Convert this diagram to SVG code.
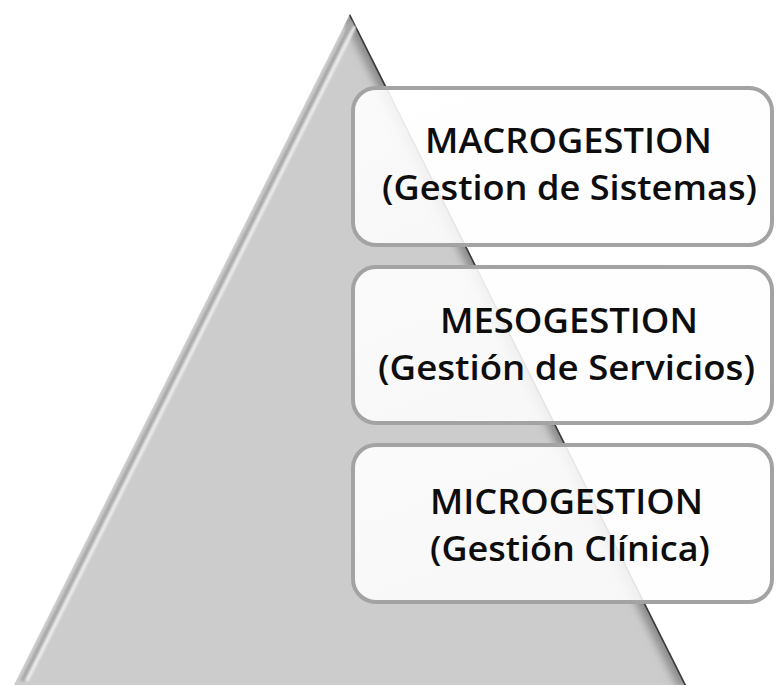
<svg xmlns="http://www.w3.org/2000/svg" width="776" height="686" viewBox="0 0 776 686">
  <defs>
    <style>
      .box { fill: #ffffff; fill-opacity: 0.85; stroke: #a3a3a3; stroke-width: 4; }
      .title { font-family: "Open Sans", "Liberation Sans", sans-serif; font-weight: 600; font-size: 34px; fill: #0d0d0d; text-anchor: middle; }
    </style>
    <clipPath id="pyr-clip">
      <polygon points="350,14 14,685 686,685"/>
    </clipPath>
    <filter id="soft" x="-10%" y="-10%" width="120%" height="120%">
      <feGaussianBlur stdDeviation="1.2"/>
    </filter>
    <filter id="softer" x="-10%" y="-10%" width="120%" height="120%">
      <feGaussianBlur stdDeviation="4"/>
    </filter>
    <linearGradient id="boxsheen" x1="0" y1="0" x2="1" y2="1">
      <stop offset="0" stop-color="#ffffff" stop-opacity="0.35"/>
      <stop offset="1" stop-color="#f4f4f4" stop-opacity="0.1"/>
    </linearGradient>
  </defs>

  <!-- pyramid with bevelled edges -->
  <g id="pyramid">
    <polygon points="350,14 14,685 686,685" fill="#cccccc"/>
    <g clip-path="url(#pyr-clip)">
      <!-- shadow along the right flank -->
      <line x1="350" y1="14" x2="686" y2="685" stroke="#8a8a8a" stroke-width="16" filter="url(#softer)"/>
      <line x1="350" y1="14" x2="686" y2="685" stroke="#3a3a3a" stroke-width="3"/>
      <!-- highlight along the left flank -->
      <line x1="352" y1="22" x2="22" y2="681" stroke="#a8a8a8" stroke-width="4" filter="url(#soft)"/>
      <line x1="355" y1="26" x2="27" y2="681" stroke="#eeeeee" stroke-width="3" filter="url(#soft)"/>
      <!-- base edge -->
      <line x1="0" y1="684" x2="700" y2="684" stroke="#a6a6a6" stroke-width="4" filter="url(#soft)"/>
    </g>
  </g>

  <g id="connectors"/>

  <g id="macrogestion">
    <rect class="box" x="353" y="88" width="419" height="157" rx="23"/>
    <rect x="355" y="90" width="415" height="153" rx="21" fill="url(#boxsheen)"/>
    <text class="title" x="568.5" y="153" textLength="287" lengthAdjust="spacingAndGlyphs">MACROGESTION</text>
    <text class="title" x="569.5" y="200" textLength="375" lengthAdjust="spacingAndGlyphs">(Gestion de Sistemas)</text>
  </g>

  <g id="mesogestion">
    <rect class="box" x="353" y="267" width="419" height="156" rx="23"/>
    <rect x="355" y="269" width="415" height="152" rx="21" fill="url(#boxsheen)"/>
    <text class="title" x="569" y="333" textLength="258" lengthAdjust="spacingAndGlyphs">MESOGESTION</text>
    <text class="title" x="566.5" y="380" textLength="377" lengthAdjust="spacingAndGlyphs">(Gestión de Servicios)</text>
  </g>

  <g id="microgestion">
    <rect class="box" x="353" y="445" width="419" height="157" rx="23"/>
    <rect x="355" y="447" width="415" height="153" rx="21" fill="url(#boxsheen)"/>
    <text class="title" x="566.5" y="514" textLength="273" lengthAdjust="spacingAndGlyphs">MICROGESTION</text>
    <text class="title" x="570" y="561" textLength="280" lengthAdjust="spacingAndGlyphs">(Gestión Clínica)</text>
  </g>
</svg>
